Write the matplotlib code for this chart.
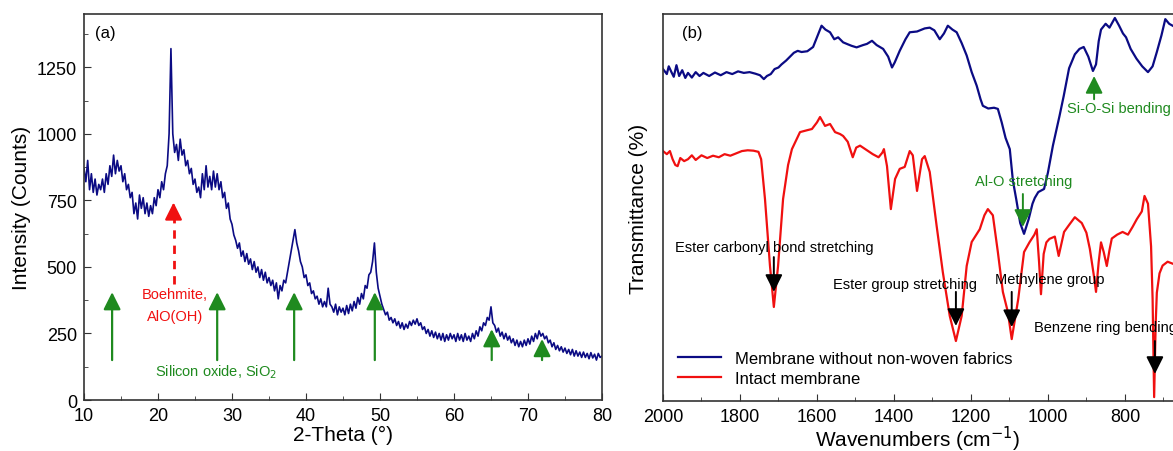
import numpy as np
import matplotlib.pyplot as plt

plt.rcParams['font.family'] = ['Liberation Sans', 'DejaVu Sans']

# ---- (a) XRD, intensity every 0.25 deg from 10 to 80 ----
xrd_counts = [
    870, 820, 900, 790, 850, 780, 830, 770, 810, 790,
    830, 780, 850, 810, 880, 840, 920, 850, 900, 860,
    880, 820, 850, 790, 810, 760, 780, 700, 740, 680,
    770, 720, 760, 700, 740, 690, 730, 700, 760, 730,
    790, 760, 820, 790, 850, 880, 1000, 1320, 1000, 930,
    960, 900, 980, 920, 940, 880, 900, 850, 870, 810,
    830, 780, 800, 760, 850, 790, 880, 800, 840, 790,
    860, 800, 850, 790, 820, 760, 780, 720, 740, 680,
    660, 620, 600, 570, 590, 540, 560, 520, 550, 510,
    530, 490, 520, 480, 500, 460, 490, 450, 480, 440,
    460, 430, 450, 410, 440, 380, 430, 410, 450, 440,
    480, 520, 560, 600, 640, 590, 560, 520, 500, 460,
    470, 430, 440, 400, 410, 380, 390, 360, 380, 350,
    370, 350, 420, 360, 350, 330, 360, 320, 350, 330,
    345, 320, 355, 325, 360, 335, 370, 345, 385, 360,
    400, 380, 430, 420, 470, 480, 520, 590, 480, 420,
    390, 360, 340, 320, 330, 300, 310, 290, 305, 280,
    295, 270, 290, 265, 285, 270, 295, 280, 300, 285,
    305, 280, 290, 265, 275, 250, 265, 240, 260, 235,
    255, 230, 250, 225, 250, 220, 245, 225, 250, 230,
    245, 220, 250, 225, 245, 220, 250, 225, 240, 220,
    250, 230, 260, 240, 275, 260, 290, 280, 310, 300,
    350, 290, 280, 255, 270, 240, 255, 230, 250, 225,
    240, 215, 230, 205, 225, 200, 220, 200, 225, 205,
    230, 210, 240, 220, 250, 230, 260, 240, 250, 230,
    240, 215, 225, 200, 215, 190, 205, 185, 200, 180,
    195, 175, 190, 170, 190, 165, 185, 165, 180, 160,
    180, 160, 175, 155, 178, 158, 172, 150, 175, 160,
    165,
]
two_theta = np.linspace(10, 80, len(xrd_counts))

sio2_peaks = [13.8, 28.0, 38.4, 49.3, 65.1, 71.9]
sio2_tips = [405, 405, 405, 405, 266, 229]
boehmite_peak = 22.1

# ---- (b) FTIR, arbitrary transmittance scale ----
blue_wn = [2000, 1990, 1985, 1978, 1972, 1965, 1958, 1950, 1942, 1935, 1925, 1915,
           1905, 1895, 1880, 1865, 1850, 1835, 1820, 1805, 1790, 1775, 1760, 1748,
           1738, 1730, 1720, 1710, 1700, 1692, 1680, 1670, 1660, 1650, 1640, 1625,
           1610, 1600, 1588, 1578, 1566, 1555, 1545, 1532, 1520, 1510, 1497, 1480,
           1470, 1457, 1445, 1428, 1415, 1405, 1398, 1385, 1370, 1359, 1340, 1320,
           1307, 1295, 1281, 1270, 1260, 1248, 1237, 1224, 1211, 1198, 1185, 1175,
           1169, 1155, 1140, 1130, 1120, 1110, 1099, 1091, 1082, 1072, 1062, 1050,
           1040, 1034, 1025, 1010, 1000, 987, 970, 959, 945, 930, 918, 907, 895,
           883, 875, 868, 862, 850, 840, 826, 815, 805, 797, 785, 770, 755, 740,
           728, 717, 705, 695, 685, 676]
blue_t = [85.8, 84.5, 86.5, 85, 83.8, 86.8, 84, 85.5, 83.5, 84.8, 83.6, 85,
          84, 84.8, 84, 84.9, 84.2, 85, 84.5, 85.2, 84.8, 85, 84.6, 84.2,
          83.2, 84, 84.5, 85.8, 86.2, 87, 88, 89, 90, 90.5, 90.2, 90.4,
          91.5, 94, 97, 96, 95.3, 93.5, 94, 92.7, 92.2, 91.8, 91.4, 92,
          92.3, 93.1, 92, 91, 89, 86.2, 87.5, 90.5, 93.5, 95.3, 95.5, 96.3,
          96.5, 95.8, 93.5, 95, 97, 96, 95.3, 92.5, 89.3, 85, 81.5, 78,
          76.3, 75.6, 75.8, 75.5, 72, 68, 65.1, 57, 52, 46, 43.2, 47,
          51, 52.5, 54, 54.8, 59, 66, 73.6, 78.8, 86, 89.6, 91, 91.5, 89,
          85.3, 87, 93, 96, 97.5, 96.5, 99, 97, 95, 94, 91, 88.5, 86.5, 85,
          86.5, 90.2, 94.5, 98.7, 97.5, 97]

red_wn = [2000, 1990, 1982, 1975, 1968, 1962, 1955, 1945, 1935, 1925, 1915, 1900,
          1885, 1870, 1855, 1840, 1825, 1810, 1795, 1780, 1765, 1752, 1745, 1735,
          1722, 1712, 1701, 1688, 1675, 1665, 1644, 1625, 1613, 1600, 1592, 1584,
          1579, 1566, 1553, 1540, 1532, 1520, 1507, 1498, 1488, 1470, 1455, 1440,
          1430, 1426, 1418, 1408, 1397, 1385, 1372, 1359, 1351, 1340, 1327, 1320,
          1307, 1289, 1273, 1255, 1239, 1224, 1211, 1198, 1177, 1165, 1156, 1143,
          1130, 1117, 1104, 1094, 1077, 1062, 1048, 1035, 1029, 1023, 1018, 1011,
          1004, 996, 982, 972, 958, 945, 930, 912, 900, 891, 880, 875, 868, 862,
          855, 847, 840, 834, 820, 806, 792, 780, 769, 756, 749, 740, 732, 728,
          724, 720, 717, 710, 702, 689, 676]
red_t = [64.6, 63.8, 64.6, 62.5, 61, 60.7, 62.8, 62, 62.5, 63.5, 62.3, 63.5,
         62.8, 63.4, 63, 63.8, 63.4, 64, 64.6, 64.8, 64.7, 64.4, 62.5, 52.2,
         34.9, 24.3, 34.9, 52.2, 61, 65.1, 69.5, 70, 70.3, 72, 73.4, 72,
         71.1, 71.6, 69.5, 69, 68.5, 67, 63, 65.5, 66, 64.8, 63.8, 63,
         64.2, 65.1, 60.7, 49.6, 57.4, 60, 60.5, 64.6, 63.5, 54.3, 62.5, 63.3,
         59.2, 45.2, 33.3, 22, 15.5, 22, 34.9, 41.1, 44.4, 48, 49.6, 48,
         38.5, 28.2, 23, 16, 26.4, 38.5, 41, 43, 44.4, 36, 27.6, 38,
         41, 41.9, 42.5, 37.5, 43.7, 45.5, 47.5, 46, 43.5, 39.3, 32, 28.2, 36, 41,
         38.5, 34.9, 39, 42, 43, 43.7, 43, 45, 47, 49, 53, 51, 40, 26.4,
         1, 20, 28, 33, 35, 36, 35.5]

NAVY = '#0b0b84'
RED = '#f01010'
GREEN = '#1f8a1f'
SPINE = '#333333'

fig = plt.figure(figsize=(11.73, 4.52), dpi=100)
ax1 = fig.add_axes([0.0716, 0.1128, 0.4416, 0.854])
ax2 = fig.add_axes([0.5652, 0.1106, 0.4348, 0.856])

for ax in (ax1, ax2):
    for s in ax.spines.values():
        s.set_color(SPINE)
        s.set_linewidth(1.2)
    ax.tick_params(which='both', direction='in', labelsize=13, pad=5, color=SPINE)
    ax.tick_params(which='major', length=5)
    ax.tick_params(which='minor', length=3)

# ---- panel (a) ----
ax1.plot(two_theta, xrd_counts, color=NAVY, lw=1.2)
ax1.set_xlim(10, 80)
ax1.set_ylim(0, 1450)
ax1.set_xticks(range(10, 81, 10))
ax1.set_xticks(range(15, 80, 10), minor=True)
ax1.set_yticks([0, 250, 500, 750, 1000, 1250])
ax1.set_yticks([125, 375, 625, 875, 1125, 1375], minor=True)
ax1.set_xlabel('2-Theta (°)', fontsize=15, labelpad=1)
ax1.set_ylabel('Intensity (Counts)', fontsize=15, labelpad=4)
ax1.text(0.021, 0.953, '(a)', transform=ax1.transAxes, fontsize=12, va='center')

for x, tip in zip(sio2_peaks, sio2_tips):
    ax1.annotate('', xy=(x, tip), xytext=(x, 150),
                 arrowprops=dict(arrowstyle='-|>,head_length=0.7,head_width=0.35',
                                 color=GREEN, lw=1.6, mutation_scale=15,
                                 shrinkA=0, shrinkB=0))
ax1.plot([boehmite_peak, boehmite_peak], [435, 700], color=RED, lw=2, ls=(0, (3, 2.5)))
ax1.annotate('', xy=(boehmite_peak, 742), xytext=(boehmite_peak, 695),
             arrowprops=dict(arrowstyle='-|>,head_length=0.7,head_width=0.35',
                             color=RED, lw=1.6, mutation_scale=15,
                             shrinkA=0, shrinkB=0))
ax1.text(22.2, 398, 'Boehmite,', color=RED, fontsize=10.5, ha='center', va='center')
ax1.text(22.3, 316, 'AlO(OH)', color=RED, fontsize=10.5, ha='center', va='center')
ax1.text(27.9, 109, 'Silicon oxide, SiO$_2$', color=GREEN, fontsize=10.5,
         ha='center', va='center')

# ---- panel (b) ----
ax2.plot(blue_wn, blue_t, color=NAVY, lw=1.6, label='Membrane without non-woven fabrics')
ax2.plot(red_wn, red_t, color=RED, lw=1.6, label='Intact membrane')
ax2.set_xlim(2000, 675)
ax2.set_ylim(0, 100)
ax2.set_yticks([])
ax2.spines['right'].set_visible(False)
ax2.set_xticks(range(2000, 699, -200))
ax2.set_xticks(range(1900, 699, -200), minor=True)
ax2.set_xlabel('Wavenumbers (cm$^{-1}$)', fontsize=15, labelpad=-1)
ax2.set_ylabel('Transmittance (%)', fontsize=15, labelpad=11)
ax2.text(0.037, 0.953, '(b)', transform=ax2.transAxes, fontsize=12, va='center')

black_arrows = [
    (1712, 37.2, 28.2),
    (1239, 28.2, 19.4),
    (1094, 28.2, 19.1),
    (722, 15.5, 7.0),
]
for x, y0, y1 in black_arrows:
    ax2.annotate('', xy=(x, y1), xytext=(x, y0),
                 arrowprops=dict(arrowstyle='-|>,head_length=0.7,head_width=0.35',
                                 color='black', lw=1.4, mutation_scale=15,
                                 shrinkA=0, shrinkB=0))
ax2.text(1712, 39.8, 'Ester carbonyl bond stretching', fontsize=10.5, ha='center', va='center')
ax2.text(1371, 30.2, 'Ester group stretching', fontsize=10.5, ha='center', va='center')
ax2.text(995, 31.5, 'Methylene group', fontsize=10.5, ha='center', va='center')
# runs past the right edge, as in the original figure
ax2.text(1036, 19.1, 'Benzene ring bending', fontsize=10.5, ha='left', va='center')

ax2.annotate('', xy=(1065, 45), xytext=(1065, 53.5),
             arrowprops=dict(arrowstyle='-|>,head_length=0.7,head_width=0.35',
                             color=GREEN, lw=1.4, mutation_scale=15,
                             shrinkA=0, shrinkB=0))
ax2.text(1062, 56.8, 'Al-O stretching', color=GREEN, fontsize=10.5, ha='center', va='center')
ax2.annotate('', xy=(880, 84), xytext=(880, 78),
             arrowprops=dict(arrowstyle='-|>,head_length=0.7,head_width=0.35',
                             color=GREEN, lw=1.4, mutation_scale=15,
                             shrinkA=0, shrinkB=0))
ax2.text(951, 75.7, 'Si-O-Si bending', color=GREEN, fontsize=10.5, ha='left', va='center')

ax2.legend(loc='lower left', bbox_to_anchor=(0.0, 0.0), frameon=False, fontsize=12,
           handlelength=2.6, borderaxespad=0.5, labelspacing=0.3)

fig.savefig('out.png', dpi=100)
